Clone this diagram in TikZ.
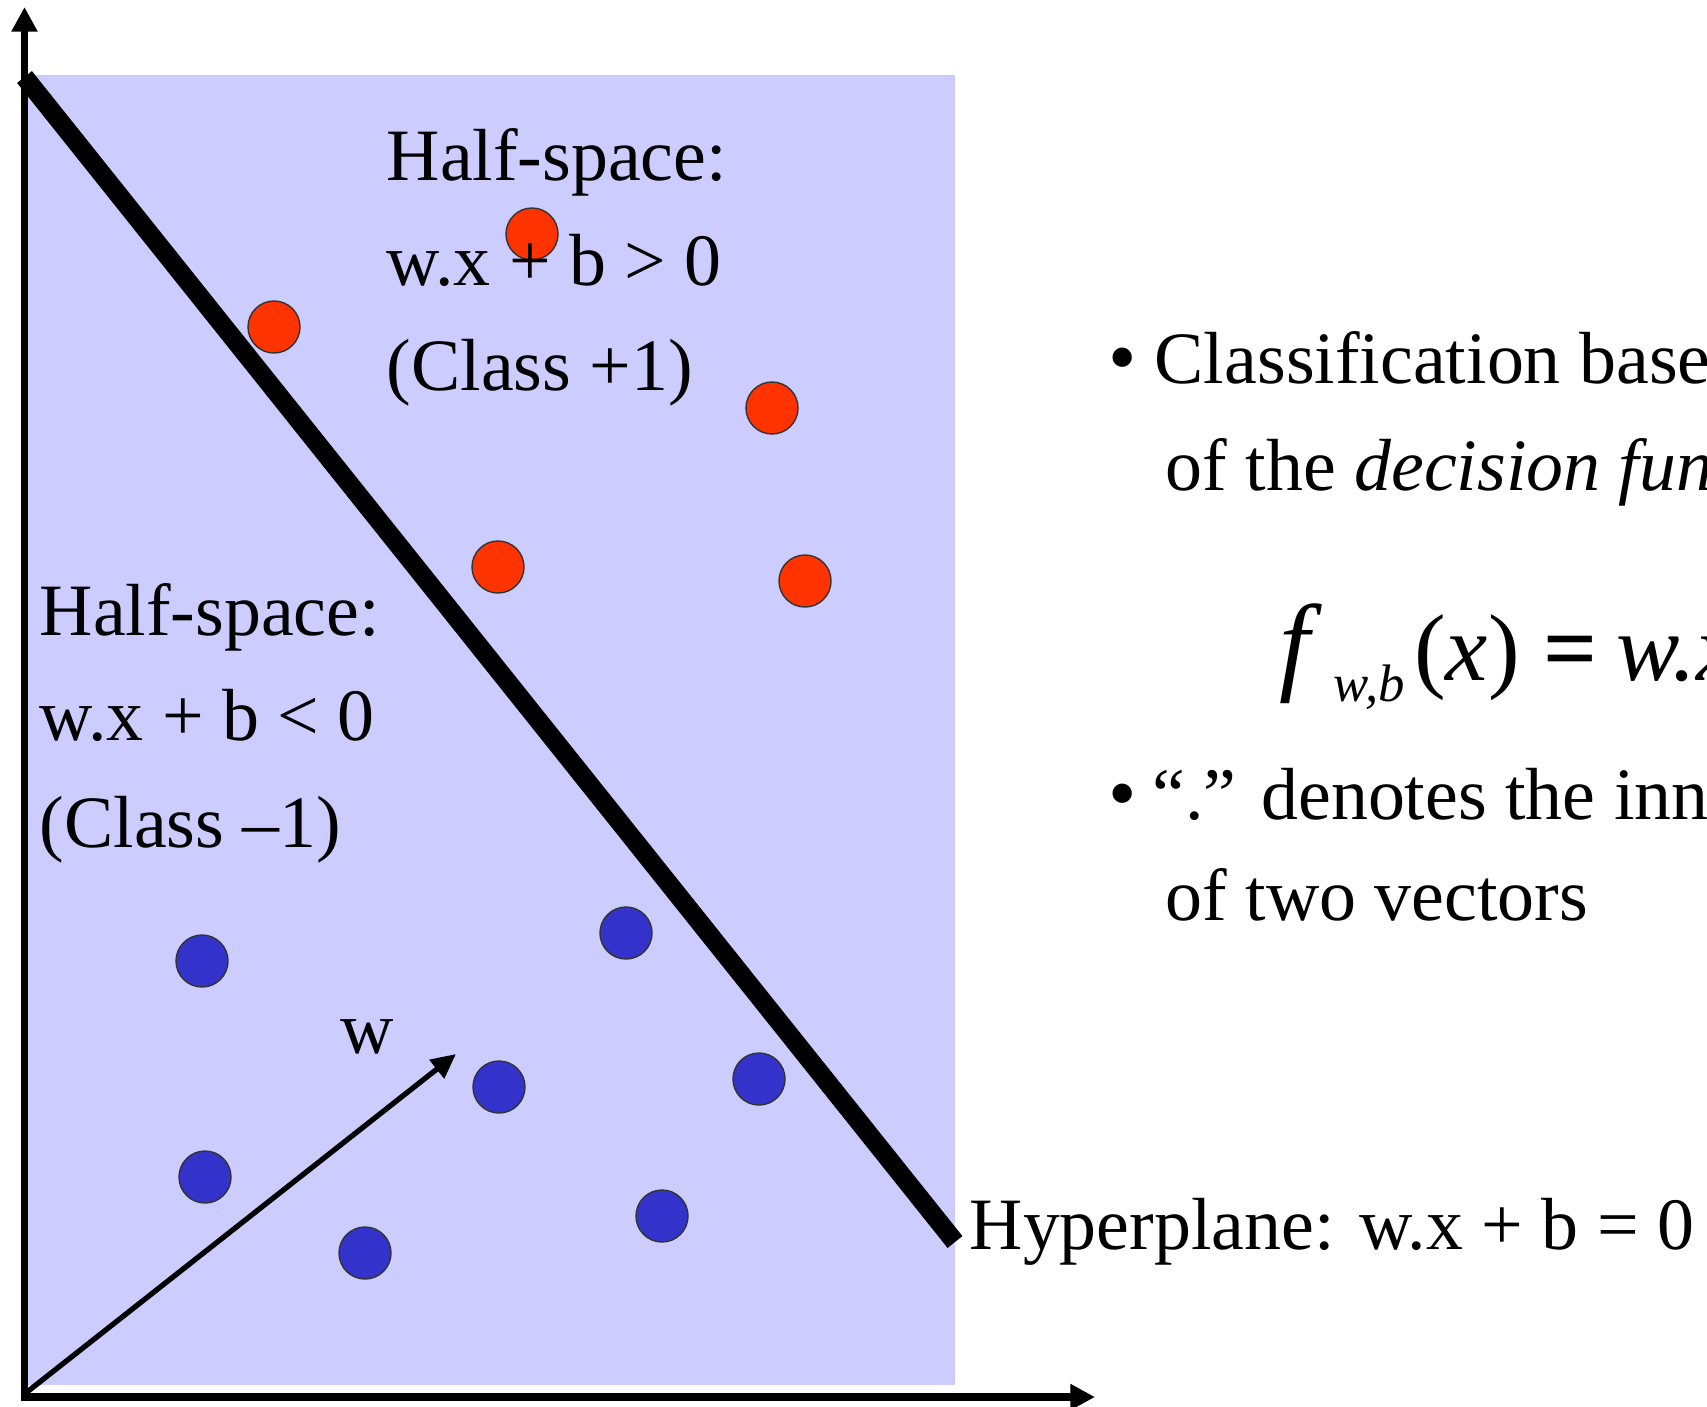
\documentclass[tikz,border=0pt]{standalone}
\usepackage{fontspec}
\setmainfont{Liberation Serif}
\usetikzlibrary{arrows.meta,positioning}
\definecolor{planefill}{HTML}{CCCCFF}
\definecolor{posred}{HTML}{FF3300}
\definecolor{negblue}{HTML}{3333CC}

\begin{document}
\begin{tikzpicture}[
    x=0.01cm, y=-0.01cm,
    dot/.style={
        circle,
        draw=black!80,
        line width=0.4pt,
        minimum size=0.52cm,
        inner sep=0pt
    },
    lbl/.style={
        anchor=base west,
        inner sep=0pt,
        font=\fontsize{21}{25}\selectfont
    },
    axis/.style={-{Triangle[length=7pt,width=7pt]},line width=2.1pt},
    warrow/.style={-{Triangle[length=7pt,width=6.5pt]},line width=1.5pt}
    ]

    \clip (0,0) rectangle (1707,1406);

    \fill[planefill] (24,75) rectangle (955,1385);

    \coordinate (O) at (24.5,1397);
    \coordinate (ytip) at (24.5,7);
    \coordinate (xtip) at (1095,1397);
    \coordinate (ybot) at (24.5,1401);
    \coordinate (xleft) at (21,1397);
    \coordinate (wfoot) at (27,1392);
    \coordinate (wtip) at (456,1054);
    \coordinate (hpA) at (24.5,77);
    \coordinate (hpB) at (955,1242);

    \draw[axis] (ybot) -- (ytip);
    \draw[axis] (xleft) -- (xtip);
    \draw[line width=5.4pt] (hpA) -- (hpB);
    \draw[warrow] (wfoot) -- (wtip);

    \node[dot,fill=posred] (pos1) at (532,234) {};
    \node[dot,fill=posred] (pos2) at (274,327) {};
    \node[dot,fill=posred] (pos3) at (772,408) {};
    \node[dot,fill=posred] (pos4) at (498,567) {};
    \node[dot,fill=posred] (pos5) at (805,581) {};

    \node[dot,fill=negblue] (neg1) at (626,933) {};
    \node[dot,fill=negblue] (neg2) at (202,961) {};
    \node[dot,fill=negblue] (neg3) at (499,1087) {};
    \node[dot,fill=negblue] (neg4) at (759,1079) {};
    \node[dot,fill=negblue] (neg5) at (205,1177) {};
    \node[dot,fill=negblue] (neg6) at (365,1253) {};
    \node[dot,fill=negblue] (neg7) at (662,1216) {};

    \node[lbl] (posA) at (386,180) {Half-space:};
    \node[lbl] (posB) at (386,285) {w.x + b > 0};
    \node[lbl] (posC) at (386,390) {(Class +1)};

    \node[lbl] (negA) at (39,635) {Half-space:};
    \node[lbl] (negB) at (39,740) {w.x + b < 0};
    \node[lbl] (negC) at (39,847) {(Class –1)};

    \node[lbl] (wlbl) at (340,1053) {w};
    \node[lbl] (hplbl) at (969,1249) {Hyperplane: w.x + b = 0};

    \node[lbl,font=\fontsize{23}{25}\selectfont] (bul1) at (1108,384) {•};
    \node[lbl] (txt1a) at (1154,383) {Classification based on the sign};
    \node[lbl] (txt1b) at (1165,490) {of the \textit{decision function}};
    \node[lbl,font=\fontsize{27}{30}\selectfont] (fwb) at (1279,680)
    {{\fontsize{31}{31}\selectfont\textit{f}}\kern0.12em\raisebox{-6pt}{\fontsize{15}{15}\selectfont\textit{w,b}}\kern0.1em(\textit{x})\hspace{0.25em}\textbf{=}\hspace{0.2em}\textit{w.x} + \textit{b}};
    \node[lbl,font=\fontsize{23}{25}\selectfont] (bul2) at (1108,820) {•};
    \node[lbl] (txt2a) at (1152,819) {“.” denotes the inner product};
    \node[lbl] (txt2b) at (1165,920) {of two vectors};

\end{tikzpicture}
\end{document}
